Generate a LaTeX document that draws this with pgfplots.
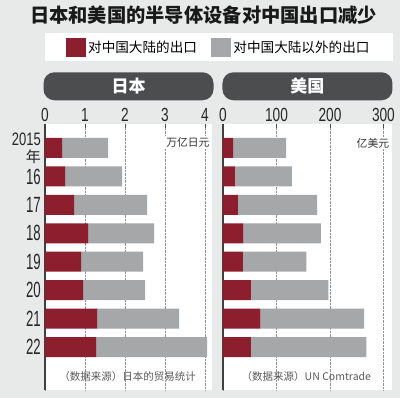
\documentclass[border=0pt]{standalone}
\usepackage{pgfplots}
\usepackage{pgfplotstable}
\pgfplotsset{compat=1.18}
\usepackage{fontspec}
\setmainfont{Noto Sans CJK SC}
\newfontfamily\cjk{Noto Sans CJK SC}
\newfontfamily\numf[FakeStretch=0.6]{Liberation Sans}
\newfontfamily\tickf[FakeStretch=0.72]{Liberation Sans}
\definecolor{bg}{HTML}{E8E9E9}
\definecolor{cnred}{HTML}{8C1E2E}
\definecolor{othgray}{HTML}{A6A7A9}
\definecolor{hdr}{HTML}{4B4D4E}
\definecolor{src}{HTML}{5A5A5A}

\pgfplotstableread{
y cn oth
7 0.43 1.15
6 0.50 1.43
5 0.73 1.82
4 1.08 1.65
3 0.90 1.55
2 0.95 1.55
1 1.30 2.05
0 1.28 2.77
}\jpdata

\pgfplotstableread{
y cn oth
7 19 99
6 22 107
5 28 148
4 38 145
3 37 119
2 52 145
1 70 194
0 52 216
}\usdata

\pgfplotsset{panel/.style={
  scale only axis, height=266pt,
  xbar stacked, bar width=20pt,
  ymin=-1.51, ymax=7.844, ytick={0,...,7},
  axis x line*=top, axis y line*=left,
  x axis line style={draw=none},
  y axis line style={-, draw=black!75, line width=1.2pt},
  xtick align=inside, major tick length=4pt,
  xtick style={draw=black!70, line width=0.6pt},
  ytick style={draw=none},
  xmajorgrids, grid style={densely dotted, gray!85, line width=0.6pt},
  axis background/.style={fill=white},
  /pgf/number format/assume math mode=true,
  xticklabel style={font=\tickf\fontsize{19}{19}\selectfont, text=black!85, inner sep=1pt, yshift=1pt},
  title style={at={(0.5,1)}, anchor=south, yshift=17.5pt, fill=hdr, text=white,
    rounded corners=11pt, minimum width=170pt, minimum height=28pt, inner sep=0pt,
    font=\cjk\bfseries\fontsize{17}{17}\selectfont},
}}

\begin{document}
\begin{tikzpicture}
\fill[bg] (0pt,0pt) rectangle (400pt,398pt);
\node[inner sep=0pt, text=black!90] at (203.5pt,382.5pt) {\resizebox{347pt}{!}{\cjk\bfseries\fontsize{19}{20}\selectfont 日本和美国的半导体设备对中国出口减少}};

\begin{axis}[panel, name=jp, at={(45pt,274pt)}, anchor=north west,
  width=167pt, xmin=0, xmax=4.175, xtick={0,1,2,3,4},
  title={日本},
  yticklabel style={align=right, inner sep=1pt, xshift=-3pt, text=black!85, font=\fontsize{18}{18}\selectfont},
  yticklabels={{\numf\fontsize{22}{22}\selectfont 22},{\numf\fontsize{22}{22}\selectfont 21},{\numf\fontsize{22}{22}\selectfont 20},{\numf\fontsize{22}{22}\selectfont 19},{\numf\fontsize{22}{22}\selectfont 18},{\numf\fontsize{22}{22}\selectfont 17},{\numf\fontsize{22}{22}\selectfont 16},{{\tickf\fontsize{18}{18}\selectfont 2015}\\[-1pt]{\cjk\fontsize{15}{15}\selectfont 年}}},
  legend columns=2,
  legend style={at={(0,1.342)}, anchor=north west, draw=none, fill=white,
    font=\cjk\fontsize{13.6}{14}\selectfont, inner xsep=21pt, inner ysep=4.5pt,
    nodes={inner sep=2pt},
    /tikz/every even column/.append style={column sep=12.5pt}},
  legend image code/.code={\fill[#1] (0pt,-9.5pt) rectangle (20pt,9.5pt);},
]
\addplot[fill=cnred, draw=none] table[x=cn, y=y] {\jpdata};
\addplot[fill=othgray, draw=none] table[x=oth, y=y] {\jpdata};
\legend{对中国大陆的出口,对中国大陆以外的出口\hspace{19pt}}
\node[anchor=east, fill=white, inner sep=1pt, font=\cjk\fontsize{10.8}{11}\selectfont, text=black!80] at (rel axis cs:0.992,0.932) {万亿日元};
\node[anchor=west, font=\cjk\fontsize{10.5}{11}\selectfont, text=src] at (rel axis cs:0.065,0.049) {（数据来源）日本的贸易统计};
\end{axis}

\begin{axis}[panel, name=us, at={(223pt,274pt)}, anchor=north west,
  width=169pt, xmin=0, xmax=316, xtick={0,100,200,300},
  title={美国}, yticklabels={},
]
\addplot[fill=cnred, draw=none] table[x=cn, y=y] {\usdata};
\addplot[fill=othgray, draw=none] table[x=oth, y=y] {\usdata};
\node[anchor=east, fill=white, inner sep=1pt, font=\cjk\fontsize{10.8}{11}\selectfont, text=black!80] at (rel axis cs:0.99,0.929) {亿美元};
\node[anchor=west, font=\cjk\fontsize{10.5}{11}\selectfont, text=src] at (rel axis cs:0.09,0.049) {（数据来源）UN Comtrade};
\end{axis}
\pgfresetboundingbox
\useasboundingbox (0pt,0pt) rectangle (400pt,398pt);
\end{tikzpicture}
\end{document}
